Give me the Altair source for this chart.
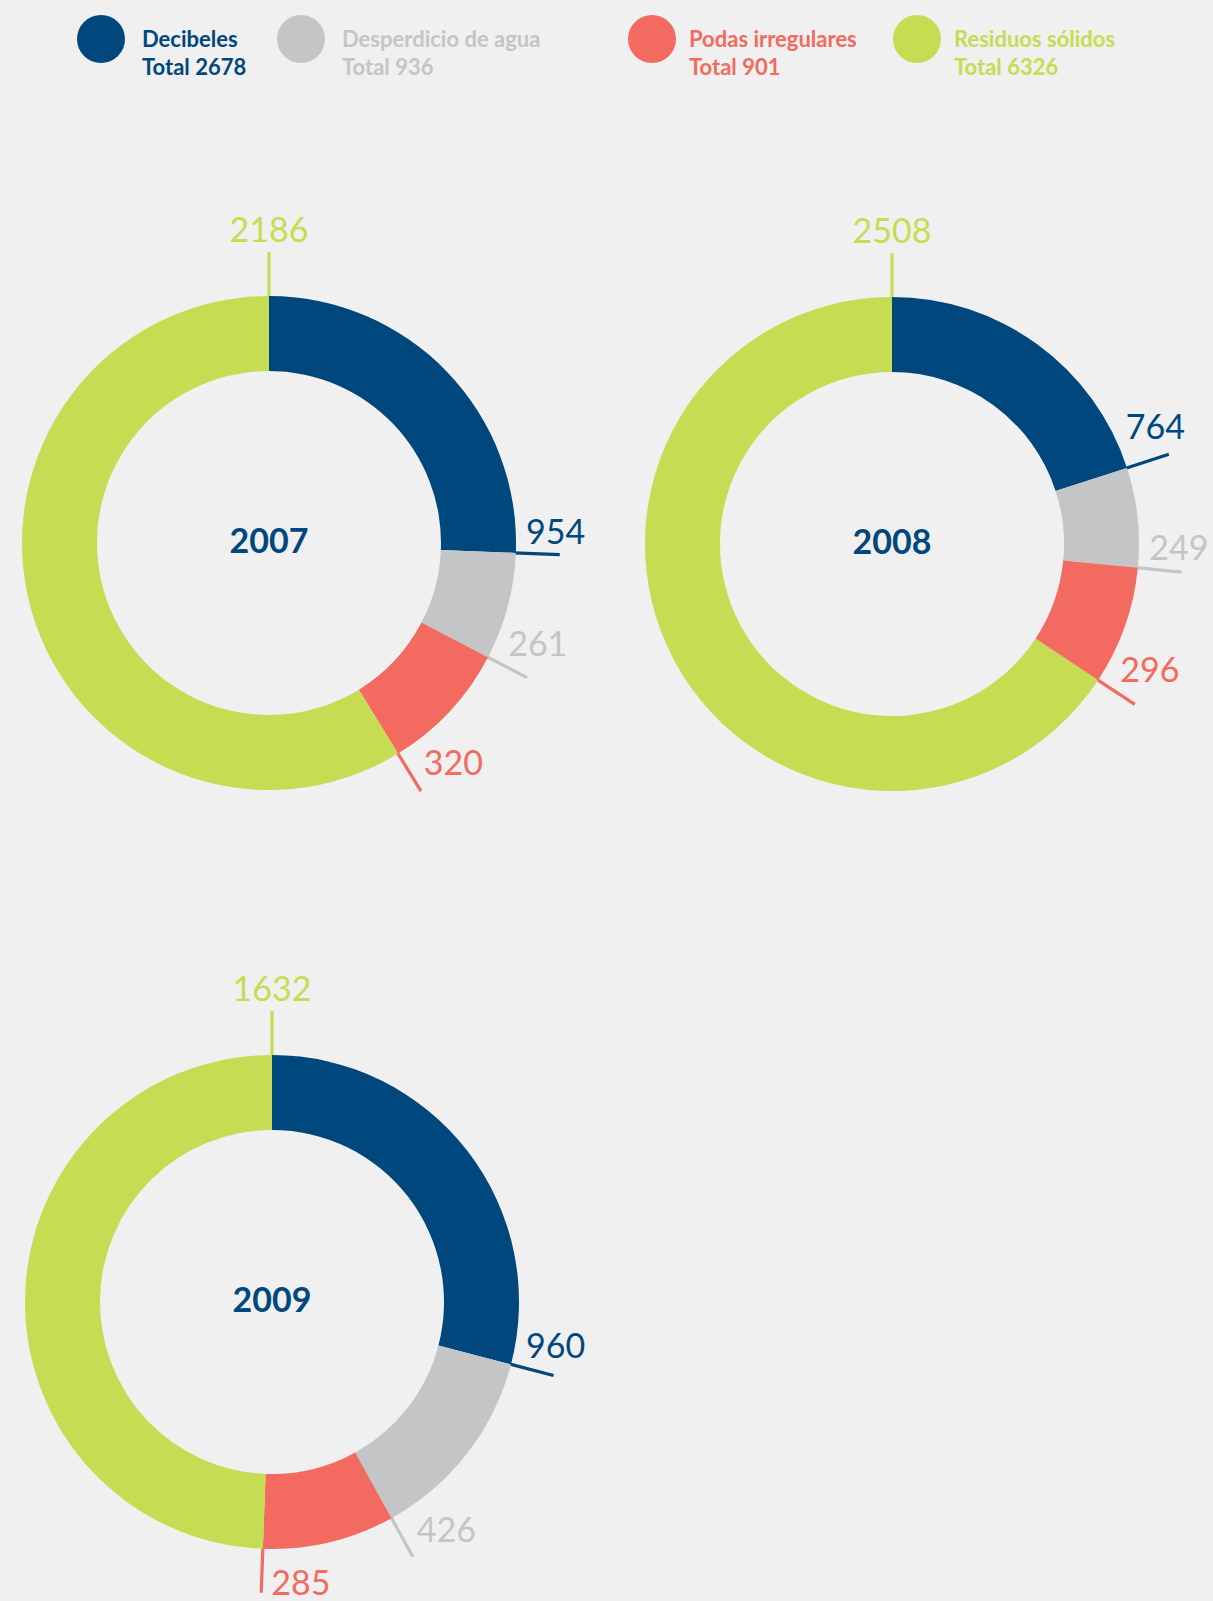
import math
import altair as alt
import pandas as pd

# ---------------- data ----------------
years = ["2007", "2008", "2009"]
categories = ["Decibeles", "Desperdicio de agua", "Podas irregulares", "Residuos sólidos"]
values_2007 = [954, 261, 320, 2186]
values_2008 = [764, 249, 296, 2508]
values_2009 = [960, 426, 285, 1632]

# ---------------- style / layout ----------------
colors = ["#00477E", "#C4C5C7", "#F26A60", "#C6DC52"]
BG = "#EFF0EF"
W, H = 1213, 1601
FONT = "Lato"
centers = {"2007": (269, 543), "2008": (892, 544), "2009": (272, 1302)}
R_OUT, R_IN = 247, 172
TICK_LEN = 44
LABEL_SIZE = 34
legend_circle_x = [101, 301, 652, 917]
legend_text_x = [142, 342, 689, 954]
LEG_CIRCLE_Y, LEG_NAME_Y, LEG_TOTAL_Y = 39, 47, 75

# ---------------- derived geometry ----------------
series = {"2007": values_2007, "2008": values_2008, "2009": values_2009}
rows = []
for yr in years:
    vals = series[yr]
    total = sum(vals)
    cx, cy = centers[yr]
    cum = 0
    for cat, v in zip(categories, vals):
        t0 = 2 * math.pi * cum / total
        cum += v
        t1 = 2 * math.pi * cum / total
        s, c = math.sin(t1), math.cos(t1)
        r1, r2 = R_OUT - 2, R_OUT + TICK_LEN
        ex, ey = cx + r2 * s, cy - r2 * c
        hw, hh = 11 * len(str(v)), 13
        out = (s, -c)
        ccw = (-c, -s)
        if cum == total:
            b = abs(out[0]) * hw + abs(out[1]) * hh + 7
            off = (out[0] * b, out[1] * b)
        else:
            a = abs(ccw[0]) * hw + abs(ccw[1]) * hh + 6
            off = (ccw[0] * a - 5 * out[0], ccw[1] * a - 5 * out[1])
        tx, ty = ex + off[0], ey + off[1]
        ty = min(ty, H - hh - 3)  # keep the label inside the canvas
        rows.append(dict(
            year=yr, category=cat, value=v, t0=t0, t1=t1, cx=cx, cy=cy,
            lx1=cx + r1 * s, ly1=cy - r1 * c, lx2=ex, ly2=ey,
            tx=tx, ty=ty,
        ))
df = pd.DataFrame(rows)

totals = [sum(series[y][i] for y in years) for i in range(len(categories))]
legend_df = pd.DataFrame(dict(
    category=categories,
    cxl=legend_circle_x,
    txl=legend_text_x,
    total_label=[f"Total {t}" for t in totals],
))
year_df = pd.DataFrame(dict(year=years,
                            cx=[centers[y][0] for y in years],
                            cy=[centers[y][1] for y in years]))

color = alt.Color("category:N", scale=alt.Scale(domain=categories, range=colors), legend=None)

def X(f):
    return alt.X(f, scale=None, axis=None)

def Y(f):
    return alt.Y(f, scale=None, axis=None)

base = alt.Chart(df)

ticks = base.mark_rule(strokeWidth=3.2).encode(
    x=X("lx1:Q"), y=Y("ly1:Q"), x2="lx2:Q", y2="ly2:Q", color=color
)

arcs = base.mark_arc(radius=R_OUT, radius2=R_IN, strokeWidth=0).encode(
    x=X("cx:Q"), y=Y("cy:Q"),
    theta=alt.Theta("t0:Q", scale=None, stack=None), theta2="t1:Q",
    color=color,
)

labels = base.mark_text(font=FONT, fontSize=LABEL_SIZE, align="center", baseline="middle").encode(
    x=X("tx:Q"), y=Y("ty:Q"), text=alt.Text("value:Q", format="d"), color=color
)

year_text = alt.Chart(year_df).mark_text(
    font=FONT, fontSize=34, fontWeight="bold", align="center", baseline="middle", color=colors[0]
).encode(x=X("cx:Q"), y=Y("cy:Q"), text="year:N")

leg = alt.Chart(legend_df)
leg_circles = leg.mark_circle(size=2304, opacity=1, strokeWidth=0).encode(
    x=X("cxl:Q"), y=alt.value(LEG_CIRCLE_Y), color=color
)
leg_names = leg.mark_text(font=FONT, fontSize=22, fontWeight="bold", align="left", baseline="alphabetic").encode(
    x=X("txl:Q"), y=alt.value(LEG_NAME_Y), text="category:N", color=color
)
leg_totals = leg.mark_text(font=FONT, fontSize=22, fontWeight="bold", align="left", baseline="alphabetic").encode(
    x=X("txl:Q"), y=alt.value(LEG_TOTAL_Y), text="total_label:N", color=color
)

chart = alt.layer(
    ticks, arcs, labels, year_text, leg_circles, leg_names, leg_totals
).properties(
    width=W, height=H, background=BG, padding=0, autosize=alt.AutoSizeParams(type="none")
).configure_view(stroke=None)

chart.save("out.html", embed_options={"renderer": "svg", "actions": False})
